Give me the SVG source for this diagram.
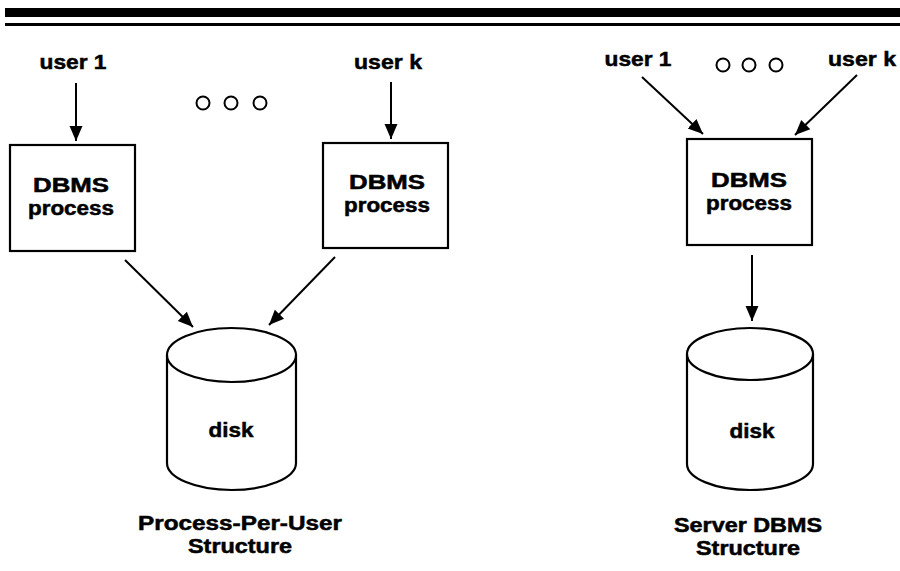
<svg xmlns="http://www.w3.org/2000/svg" width="900" height="571" viewBox="0 0 900 571">
<defs>
<marker id="ah" markerUnits="userSpaceOnUse" markerWidth="16" markerHeight="16" viewBox="0 0 16 16" refX="15" refY="8" orient="auto">
<path d="M0,1.5 L15,8 L0,14.5 Z" fill="#000"/>
</marker>
<style>
text{font-family:"Liberation Sans",Arial,sans-serif;font-weight:bold;fill:#000;stroke:#000;stroke-width:0.5;text-anchor:middle}
.lbl{font-size:21px}
.two{font-size:19.5px}
.box{fill:#fff;stroke:#000;stroke-width:2.2}
.disk{fill:#fff;stroke:#000;stroke-width:2.2}
.dot{fill:none;stroke:#000;stroke-width:2}
.conn line{stroke:#000;stroke-width:2;marker-end:url(#ah)}
</style>
</defs>
<rect width="900" height="571" fill="#fff"/>
<rect x="5" y="8" width="895" height="9" fill="#000"/>
<rect x="5" y="23" width="895" height="3" fill="#000"/>

<g id="user1-left"><text class="lbl" x="73" y="69" textLength="67" lengthAdjust="spacingAndGlyphs">user 1</text></g>
<g id="userk-left"><text class="lbl" x="388" y="69" textLength="68" lengthAdjust="spacingAndGlyphs">user k</text></g>
<g id="dots-left">
<circle class="dot" cx="203" cy="103" r="6.5"/>
<circle class="dot" cx="231" cy="103" r="6.5"/>
<circle class="dot" cx="260" cy="103" r="6.5"/>
</g>
<g id="dbms-left1">
<rect class="box" x="10" y="145" width="125" height="106"/>
<text class="two" x="71" y="192" textLength="76" lengthAdjust="spacingAndGlyphs">DBMS</text>
<text class="two" x="71" y="215" textLength="86" lengthAdjust="spacingAndGlyphs">process</text>
</g>
<g id="dbms-left2">
<rect class="box" x="323" y="143" width="125" height="105"/>
<text class="two" x="387" y="189" textLength="76" lengthAdjust="spacingAndGlyphs">DBMS</text>
<text class="two" x="387" y="212" textLength="86" lengthAdjust="spacingAndGlyphs">process</text>
</g>
<g id="disk-left">
<path class="disk" d="M167,355 L167,463 A64.5,27 0 0 0 296,463 L296,355"/>
<ellipse class="disk" cx="231.5" cy="355" rx="64.5" ry="27"/>
<text class="lbl" x="231" y="437" textLength="45" lengthAdjust="spacingAndGlyphs">disk</text>
</g>
<g id="caption-left">
<text class="two" x="240" y="530" textLength="204" lengthAdjust="spacingAndGlyphs">Process-Per-User</text>
<text class="two" x="240" y="553" textLength="104" lengthAdjust="spacingAndGlyphs">Structure</text>
</g>

<g id="user1-right"><text class="lbl" x="638" y="66" textLength="67" lengthAdjust="spacingAndGlyphs">user 1</text></g>
<g id="userk-right"><text class="lbl" x="862" y="66" textLength="68" lengthAdjust="spacingAndGlyphs">user k</text></g>
<g id="dots-right">
<circle class="dot" cx="723" cy="65" r="6.5"/>
<circle class="dot" cx="749" cy="65" r="6.5"/>
<circle class="dot" cx="776" cy="65" r="6.5"/>
</g>
<g id="dbms-right">
<rect class="box" x="687" y="139" width="125" height="106"/>
<text class="two" x="749" y="187" textLength="76" lengthAdjust="spacingAndGlyphs">DBMS</text>
<text class="two" x="749" y="210" textLength="86" lengthAdjust="spacingAndGlyphs">process</text>
</g>
<g id="disk-right">
<path class="disk" d="M687,354 L687,464 A63,26 0 0 0 813,464 L813,354"/>
<ellipse class="disk" cx="750" cy="354" rx="63" ry="26"/>
<text class="lbl" x="752" y="438" textLength="45" lengthAdjust="spacingAndGlyphs">disk</text>
</g>
<g id="caption-right">
<text class="two" x="748" y="532" textLength="148" lengthAdjust="spacingAndGlyphs">Server DBMS</text>
<text class="two" x="748" y="555" textLength="104" lengthAdjust="spacingAndGlyphs">Structure</text>
</g>

<g id="connectors" class="conn">
<line x1="76" y1="83" x2="76" y2="141"/>
<line x1="391" y1="82" x2="391" y2="139"/>
<line x1="125" y1="260" x2="193" y2="327"/>
<line x1="335" y1="257" x2="269" y2="325"/>
<line x1="642" y1="77" x2="703" y2="134"/>
<line x1="857" y1="75" x2="795" y2="135"/>
<line x1="752" y1="255" x2="752" y2="321"/>
</g>
</svg>
